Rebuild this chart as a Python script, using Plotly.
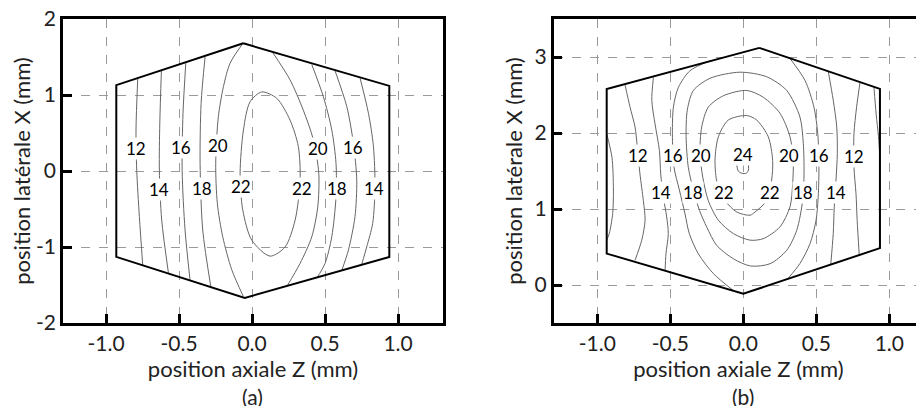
import plotly.graph_objects as go

# hexagon outlines (Z, X) in mm
hex_a = [(-0.06, 1.68), (0.94, 1.12), (0.94, -1.13), (-0.05, -1.67), (-0.93, -1.13), (-0.93, 1.13), (-0.06, 1.68)]
hex_b = [(0.11, 3.12), (0.936, 2.58), (0.936, 0.485), (0.0, -0.115), (-0.936, 0.413), (-0.936, 2.58), (0.11, 3.12)]

# iso-lines
a12 = [(-0.783, 1.22), (-0.795, 0.54), (-0.79, 0.01), (-0.772, -0.60), (-0.749, -1.24)]
a14 = [(-0.621, 1.32), (-0.632, 0.63), (-0.635, 0.01), (-0.619, -0.645), (-0.573, -1.34)]
a16 = [(-0.454, 1.42), (-0.473, 0.76), (-0.479, 0.01), (-0.459, -0.776), (-0.425, -1.43)]
a18 = [(-0.322, 1.50), (-0.349, 0.89), (-0.356, 0.10), (-0.338, -0.776), (-0.281, -1.54)]
a20_l = [(-0.07, 1.66), (-0.151, 1.417), (-0.196, 1.11), (-0.231, 0.715), (-0.249, 0.10),
         (-0.238, -0.425), (-0.201, -0.865), (-0.139, -1.30), (-0.06, -1.65)]
a20_r = [(0.142, 1.557), (0.26, 1.20), (0.351, 0.80), (0.42, 0.41), (0.457, -0.03),
         (0.45, -0.47), (0.409, -0.865), (0.329, -1.215), (0.238, -1.52)]
a18_r = [(0.409, 1.40), (0.488, 0.98), (0.546, 0.54), (0.575, 0.10), (0.575, -0.34),
         (0.546, -0.865), (0.50, -1.215), (0.443, -1.41)]
a16_r = [(0.568, 1.32), (0.649, 0.846), (0.694, 0.364), (0.717, -0.12), (0.705, -0.60),
         (0.66, -1.04), (0.614, -1.31)]
a14_r = [(0.74, 1.22), (0.797, 0.76), (0.831, 0.33), (0.842, -0.21), (0.826, -0.69),
         (0.785, -1.0), (0.751, -1.23)]
a22 = [(0.066, 1.04), (-0.014, 0.91), (-0.059, 0.54), (-0.082, -0.03), (-0.064, -0.51),
       (-0.002, -0.91), (0.123, -1.12), (0.226, -1.0), (0.295, -0.645), (0.329, -0.12),
       (0.317, 0.32), (0.26, 0.67), (0.169, 0.957), (0.066, 1.04)]
lines_a = [a12, a14, a16, a18, a20_l, a20_r, a18_r, a16_r, a14_r, a22]

# iso-lines
b10 = [(-0.936, 1.99), (-0.90, 1.68), (-0.89, 1.25), (-0.895, 0.94), (-0.918, 0.68), (-0.936, 0.59)]
b12 = [(-0.81, 2.63), (-0.776, 2.34), (-0.742, 2.08), (-0.726, 1.81), (-0.708, 1.46),
       (-0.685, 1.11), (-0.673, 0.852), (-0.696, 0.59), (-0.742, 0.325)]
b14 = [(-0.616, 2.73), (-0.627, 2.43), (-0.605, 2.12), (-0.575, 1.77), (-0.566, 1.46),
       (-0.548, 1.16), (-0.525, 0.895), (-0.514, 0.676), (-0.53, 0.41), (-0.536, 0.19)]
b16 = [(-0.228, 2.95), (-0.365, 2.82), (-0.445, 2.60), (-0.479, 2.34), (-0.486, 1.99),
       (-0.475, 1.55), (-0.438, 1.25), (-0.40, 0.94), (-0.37, 0.676), (-0.308, 0.41),
       (-0.205, 0.15), (-0.07, -0.07)]
b18 = [(-0.023, 2.80), (-0.228, 2.72), (-0.342, 2.56), (-0.384, 2.30), (-0.392, 1.95),
       (-0.377, 1.55), (-0.342, 1.25), (-0.30, 0.98), (-0.25, 0.76), (-0.182, 0.52),
       (-0.068, 0.345), (0.05, 0.25), (0.183, 0.28), (0.297, 0.456), (0.366, 0.72),
       (0.407, 1.12), (0.416, 1.47), (0.411, 1.86), (0.388, 2.21), (0.297, 2.56),
       (0.16, 2.74), (-0.023, 2.80)]
b20 = [(0.023, 2.56), (-0.137, 2.49), (-0.24, 2.34), (-0.285, 2.08), (-0.297, 1.73),
       (-0.278, 1.42), (-0.24, 1.11), (-0.171, 0.852), (-0.068, 0.676), (0.046, 0.59),
       (0.137, 0.61), (0.251, 0.765), (0.32, 1.03), (0.338, 1.33), (0.342, 1.64),
       (0.32, 1.95), (0.251, 2.26), (0.137, 2.47), (0.023, 2.56)]
b22 = [(0.023, 2.23), (-0.103, 2.17), (-0.171, 1.95), (-0.194, 1.64), (-0.178, 1.33),
       (-0.125, 1.11), (-0.045, 0.96), (0.046, 0.918), (0.08, 0.96), (0.16, 1.11),
       (0.194, 1.38), (0.201, 1.64), (0.171, 1.95), (0.092, 2.17), (0.023, 2.23)]
b24 = [(-0.045, 1.58), (-0.035, 1.50), (-0.01, 1.47), (0.02, 1.47), (0.035, 1.51), (0.035, 1.58)]
b16_r = [(0.32, 2.98), (0.423, 2.69), (0.484, 2.34), (0.51, 1.99), (0.518, 1.55),
         (0.514, 1.20), (0.498, 0.85), (0.457, 0.544), (0.388, 0.283), (0.308, 0.09)]
b14_r = [(0.582, 2.81), (0.616, 2.43), (0.64, 2.08), (0.644, 1.73), (0.635, 1.38),
         (0.623, 1.03), (0.616, 0.676), (0.599, 0.27)]
b12_r = [(0.799, 2.66), (0.776, 2.34), (0.758, 1.99), (0.758, 1.55), (0.772, 1.20),
         (0.78, 0.85), (0.794, 0.40)]
b10_r = [(0.895, 2.60), (0.91, 2.25), (0.926, 1.95), (0.936, 1.66)]
lines_b = [b10, b12, b14, b16, b18, b20, b22, b24, b16_r, b14_r, b12_r, b10_r]

# contour labels: (text, Z, X)
labels_a = [("12", -0.795, 0.29), ("14", -0.637, -0.24), ("16", -0.486, 0.31), ("18", -0.34, -0.23),
            ("20", -0.235, 0.33), ("22", -0.077, -0.21), ("22", 0.34, -0.23), ("20", 0.45, 0.30),
            ("18", 0.58, -0.23), ("16", 0.69, 0.31), ("14", 0.836, -0.23)]
labels_b = [("12", -0.719, 1.71), ("16", -0.479, 1.71), ("20", -0.29, 1.71), ("24", -0.004, 1.72),
            ("20", 0.315, 1.70), ("16", 0.52, 1.70), ("12", 0.758, 1.69),
            ("14", -0.564, 1.22), ("18", -0.347, 1.22), ("22", -0.13, 1.22),
            ("22", 0.183, 1.22), ("18", 0.411, 1.22), ("14", 0.633, 1.22)]

FONT = "Lato, 'Open Sans', sans-serif"
TXT = "#222222"

fig = go.Figure()

for lines, xa, ya in [(lines_a, "x", "y"), (lines_b, "x2", "y2")]:
    for pts in lines:
        fig.add_trace(go.Scatter(
            x=[p[0] for p in pts], y=[p[1] for p in pts], mode="lines",
            line=dict(color="#666666", width=1, shape="spline", smoothing=0.8),
            xaxis=xa, yaxis=ya, hoverinfo="skip", showlegend=False))

for pts, xa, ya in [(hex_a, "x", "y"), (hex_b, "x2", "y2")]:
    fig.add_trace(go.Scatter(
        x=[p[0] for p in pts], y=[p[1] for p in pts], mode="lines",
        line=dict(color="black", width=2), xaxis=xa, yaxis=ya,
        hoverinfo="skip", showlegend=False))

annotations = []
for labels, xr, yr in [(labels_a, "x", "y"), (labels_b, "x2", "y2")]:
    for txt, zx, xx in labels:
        annotations.append(dict(x=zx, y=xx, xref=xr, yref=yr, text=txt, showarrow=False,
                                font=dict(family=FONT, size=17, color="black"),
                                bgcolor="white", borderpad=0))

annotations += [
    dict(text="(a)", x=0.0, y=-0.243, xref="x", yref="paper", showarrow=False,
         yanchor="middle", font=dict(family=FONT, size=21, color=TXT)),
    dict(text="(b)", x=0.0, y=-0.243, xref="x2", yref="paper", showarrow=False,
         yanchor="middle", font=dict(family=FONT, size=21, color=TXT)),
]

axis_common = dict(
    showline=True, linewidth=2.5, linecolor="black", mirror=True,
    ticks="inside", ticklen=9, tickwidth=2.5, tickcolor="black",
    showgrid=True, gridcolor="#9a9a9a", gridwidth=1, griddash="dash",
    zeroline=False, automargin=False, ticklabeloverflow="allow",
    tickfont=dict(family=FONT, size=21, color=TXT),
)
xtitle = dict(text="position axiale Z (mm)", standoff=6, font=dict(family=FONT, size=22, color=TXT))
ytitle = dict(text="position latérale X (mm)", standoff=6, font=dict(family=FONT, size=22, color=TXT))
x_vals = [-1, -0.5, 0, 0.5, 1]
x_text = ["-1.0", "-0.5", "0.0", "0.5", "1.0"]
ya_vals = [-2, -1, 0, 1, 2]
ya_text = ["-2", "-1", "0", "1", "2"]
yb_vals = [0, 1, 2, 3]
yb_text = ["0", "1", "2", "3"]

# the page body keeps its 8px default margin, so the figure is offset by 8px
fig.update_layout(
    width=916, height=398,
    margin=dict(l=55, r=1, t=11, b=83),
    plot_bgcolor="white", paper_bgcolor="white",
    annotations=annotations,
    xaxis=dict(domain=[0, 0.4419], range=[-1.295, 1.308], title=xtitle,
               tickvals=x_vals, ticktext=x_text, **axis_common),
    yaxis=dict(domain=[0, 1], range=[-2, 2], title=ytitle,
               tickvals=ya_vals, ticktext=ya_text, **axis_common),
    xaxis2=dict(domain=[0.5706, 1], range=[-1.299, 1.231], anchor="y2", title=xtitle,
                tickvals=x_vals, ticktext=x_text, **axis_common),
    yaxis2=dict(domain=[0, 1], range=[-0.5, 3.5], anchor="x2", title=ytitle,
                tickvals=yb_vals, ticktext=yb_text, **axis_common),
)

fig.write_html("out.html")
